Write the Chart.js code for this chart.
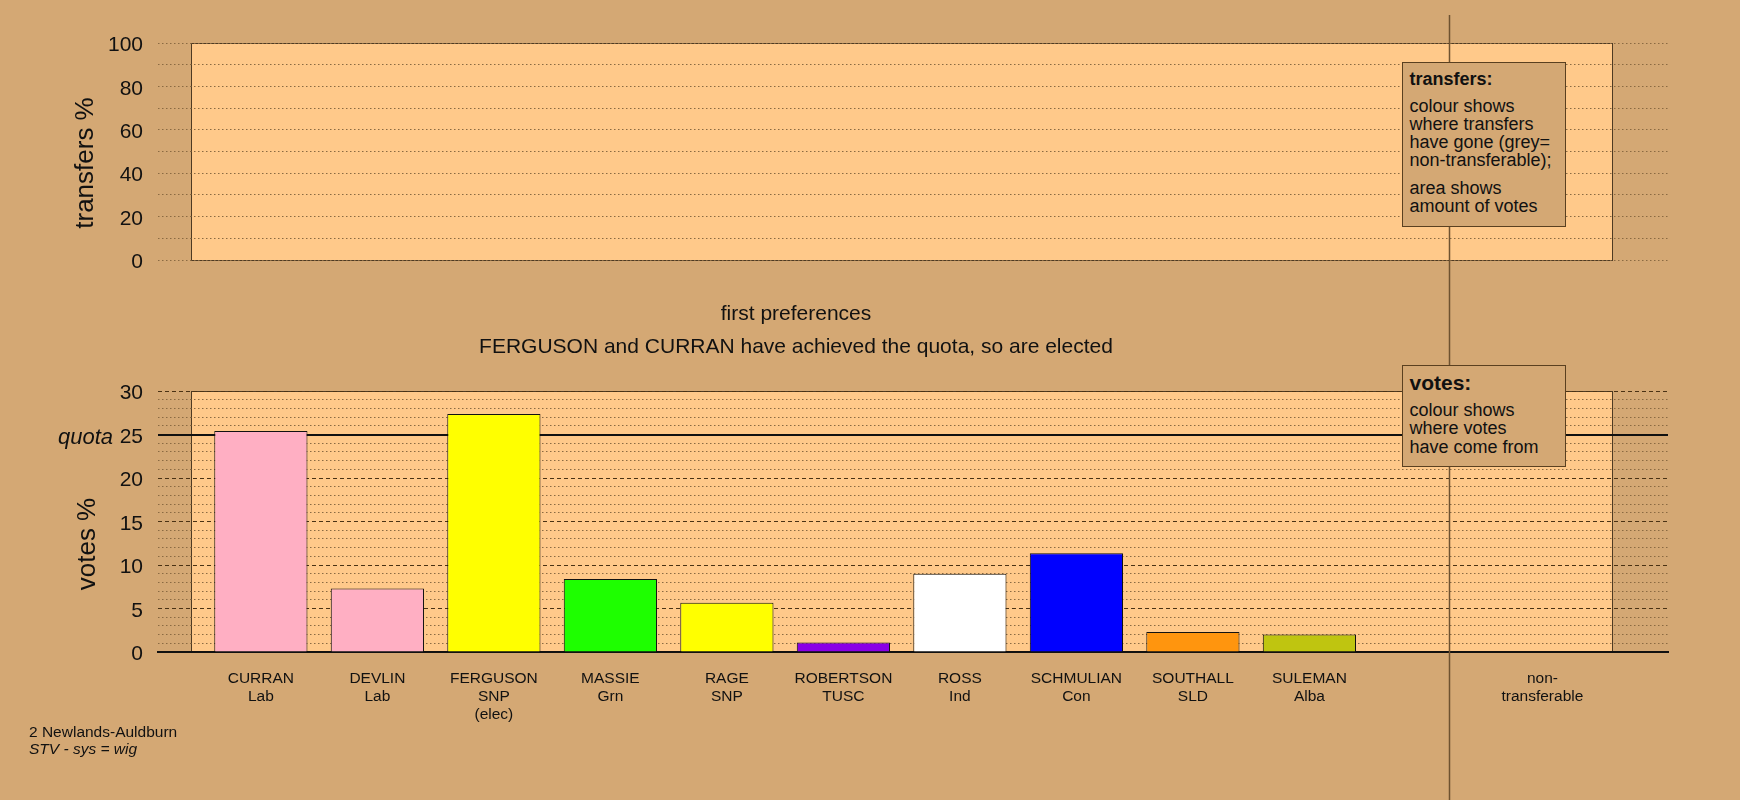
<!DOCTYPE html>
<html><head><meta charset="utf-8">
<script src="https://cdn.jsdelivr.net/npm/chart.js@4.4.1/dist/chart.umd.min.js"></script>
<style>
html,body{margin:0;padding:0;background:#d4a874;width:1740px;height:800px;overflow:hidden;font-family:"Liberation Sans",Arial,sans-serif;color:#111}
#wrap{position:relative;width:1740px;height:800px}
canvas{position:absolute;left:0}
#cTop{top:0}
#cBot{top:290px}
.t{position:absolute;white-space:nowrap;line-height:1}
.ctr{transform:translate(-50%,-50%)}
.lg{position:absolute;box-sizing:border-box;background:#d4a874;border:1.5px solid #5a4020;padding-left:6.5px;color:#111}
.lg div{white-space:nowrap}
</style></head>
<body><div id="wrap">
<canvas id="cTop" width="1740" height="290"></canvas>
<canvas id="cBot" width="1740" height="510"></canvas>

<div class="t ctr" style="left:796px;top:312px;font-size:21px">first preferences</div>
<div class="t ctr" style="left:796px;top:345px;font-size:21px">FERGUSON and CURRAN have achieved the quota, so are elected</div>

<div class="lg" style="left:1402px;top:62px;width:164px;height:165px;padding-top:7px">
  <div style="font-weight:bold;font-size:18px;line-height:18px">transfers:</div>
  <div style="font-size:18px;line-height:18px;margin-top:9px">colour shows<br>where transfers<br>have gone (grey=<br>non-transferable);</div>
  <div style="font-size:18px;line-height:18px;margin-top:10px">area shows<br>amount of votes</div>
</div>
<div class="lg" style="left:1402px;top:365px;width:164px;height:102px;padding-top:6px">
  <div style="font-weight:bold;font-size:21px;line-height:22px">votes:</div>
  <div style="font-size:18px;line-height:18.3px;margin-top:7px">colour shows<br>where votes<br>have come from</div>
</div>

<div class="t" style="left:29px;top:723px;font-size:15.5px;line-height:17px">2 Newlands-Auldburn<br><i>STV - sys = wig</i></div>
</div>
<script>
// ---- data ----
const candidates = ['CURRAN','DEVLIN','FERGUSON','MASSIE','RAGE','ROBERTSON','ROSS','SCHMULIAN','SOUTHALL','SULEMAN'];
const parties    = ['Lab','Lab','SNP','Grn','SNP','TUSC','Ind','Con','SLD','Alba'];
const notes      = ['','','(elec)','','','','','','',''];
const firstPrefPct = [25.4, 7.3, 27.35, 8.4, 5.65, 1.1, 9.0, 11.35, 2.3, 2.0];
const partyColours = ['#ffafc3','#ffafc3','#ffff00','#1eff00','#ffff00','#8a00e6','#ffffff','#0000ff','#ff950e','#bfc510'];
const extraSlots = [[''], ['non-','transferable']];
const quota = 25;
const votesTickLabels = [0,5,10,15,20,25,30];
const transferTickLabels = [0,20,40,60,80,100];

const slotLabels = candidates.map((c,i)=>[c, parties[i]].concat(notes[i] ? [notes[i]] : [])).concat(extraSlots);

// ---- layout constants ----
const X_MIN = -0.883, X_MAX = 12.078;
const BOX_X0 = -0.6, BOX_X1 = 11.6;
const VLINE_X = 10.2;
const BG_BOX = '#ffc98a';
const FONT = '"Liberation Sans", Arial, sans-serif';
Chart.defaults.font.family = FONT;
Chart.defaults.color = '#111';

function rangeTicks(min, max, step){ const t=[]; for(let v=min; v<=max+1e-9; v+=step) t.push({value:v}); return t; }

const decor = {
  id:'decor',
  beforeDraw(chart, args, opts){
    const {ctx, scales:{x,y}} = chart;
    const x0 = x.getPixelForValue(BOX_X0), x1 = x.getPixelForValue(BOX_X1);
    const y0 = y.getPixelForValue(y.max), y1 = y.getPixelForValue(y.min);
    ctx.save();
    ctx.fillStyle = BG_BOX;
    ctx.fillRect(x0, y0, x1-x0, y1-y0);
    ctx.strokeStyle = '#4e3a22';
    ctx.lineWidth = 1;
    ctx.strokeRect(Math.round(x0)+0.5, Math.round(y0)+0.5, Math.round(x1-x0), Math.round(y1-y0));
    ctx.restore();
  },
  afterDatasetsDraw(chart, args, opts){
    const {ctx, scales:{x}} = chart;
    const vx = Math.round(x.getPixelForValue(VLINE_X)) + 0.5;
    ctx.save();
    ctx.strokeStyle = '#6e5230';
    ctx.lineWidth = 1.5;
    ctx.beginPath(); ctx.moveTo(vx, opts.vTop); ctx.lineTo(vx, chart.height); ctx.stroke();
    ctx.restore();
  },
  afterDraw(chart, args, opts){
    const {ctx, scales:{y}} = chart;
    ctx.save();
    ctx.fillStyle = '#111';
    if (opts.quotaLabel) {
      ctx.font = 'italic 22px ' + FONT;
      ctx.textAlign = 'right'; ctx.textBaseline = 'middle';
      ctx.fillText('quota', 113, y.getPixelForValue(quota) + 3);
    }
    ctx.translate(opts.titleX, opts.titleY);
    ctx.rotate(-Math.PI/2);
    ctx.font = '26px ' + FONT;
    ctx.textAlign = 'center'; ctx.textBaseline = 'middle';
    ctx.fillText(opts.title, 0, 0);
    ctx.restore();
  }
};

const xScaleBase = {
  type:'linear', min:X_MIN, max:X_MAX, offset:false, bounds:'ticks',
  afterBuildTicks: s => { s.ticks = slotLabels.map((_,i)=>({value:i})); },
  grid:{display:false, drawTicks:false, offset:false},
};

// ---- top chart: transfers ----
new Chart(document.getElementById('cTop'), {
  type:'bar',
  data:{ datasets:[{ data:[] }] },
  options:{
    responsive:false, animation:false,
    layout:{ padding:{ top:43, bottom:30, left:0, right:72 } },
    plugins:{ legend:{display:false}, tooltip:{enabled:false},
      decor:{ vTop:15, title:'transfers %', titleX:86, titleY:163, quotaLabel:false } },
    scales:{
      x: Object.assign({}, xScaleBase, { display:false }),
      y:{
        min:0, max:100,
        afterBuildTicks: s => { s.ticks = rangeTicks(0,100,10); },
        afterFit: s => { s.width = 158; },
        ticks:{ autoSkip:false, padding:15, labelOffset:2.5, font:{size:21}, color:'#111',
          callback: v => transferTickLabels.includes(v) ? String(v) : '' },
        grid:{ drawTicks:false, color:'#8a6a42', lineWidth:1 },
        border:{ display:false, dash:[1.5,2.5] }
      }
    }
  },
  plugins:[decor]
});

// ---- bottom chart: first preference votes ----
new Chart(document.getElementById('cBot'), {
  type:'bar',
  data:{ datasets:[{
    data: firstPrefPct.map((v,i)=>({x:i, y:v})),
    backgroundColor: partyColours,
    borderColor:'#111', borderWidth:1,
    categoryPercentage:1, barPercentage:0.8
  }] },
  options:{
    responsive:false, animation:false,
    layout:{ padding:{ top:101, bottom:0, left:0, right:72 } },
    plugins:{ legend:{display:false}, tooltip:{enabled:false},
      decor:{ vTop:0, title:'votes %', titleX:88, titleY:254, quotaLabel:true } },
    scales:{
      x: Object.assign({}, xScaleBase, {
        afterFit: s => { s.height = 148; },
        ticks:{ autoSkip:false, maxRotation:0, minRotation:0, padding:18,
          font:{size:15.5, lineHeight:1.15}, color:'#111',
          callback: (v) => slotLabels[Math.round(v)] },
        border:{ display:true, color:'#111', width:2 }
      }),
      y:{
        min:0, max:30,
        afterBuildTicks: s => { s.ticks = rangeTicks(0,30,1); },
        afterFit: s => { s.width = 158; },
        ticks:{ autoSkip:false, padding:15, labelOffset:2.5, font:{size:21}, color:'#111',
          callback: v => votesTickLabels.includes(v) ? String(v) : '' },
        grid:{ drawTicks:false,
          color: c => c.tick.value === quota ? '#111' : (c.tick.value % 5 === 0 ? '#4a3214' : '#8a6a42'),
          lineWidth: c => c.tick.value === quota ? 2 : 1 },
        border:{ display:false,
          dash: c => c.tick && c.tick.value === quota ? [] : (c.tick && c.tick.value % 5 === 0 ? [4,3] : [1.5,2.5]) }
      }
    }
  },
  plugins:[decor]
});
</script>
</body></html>
